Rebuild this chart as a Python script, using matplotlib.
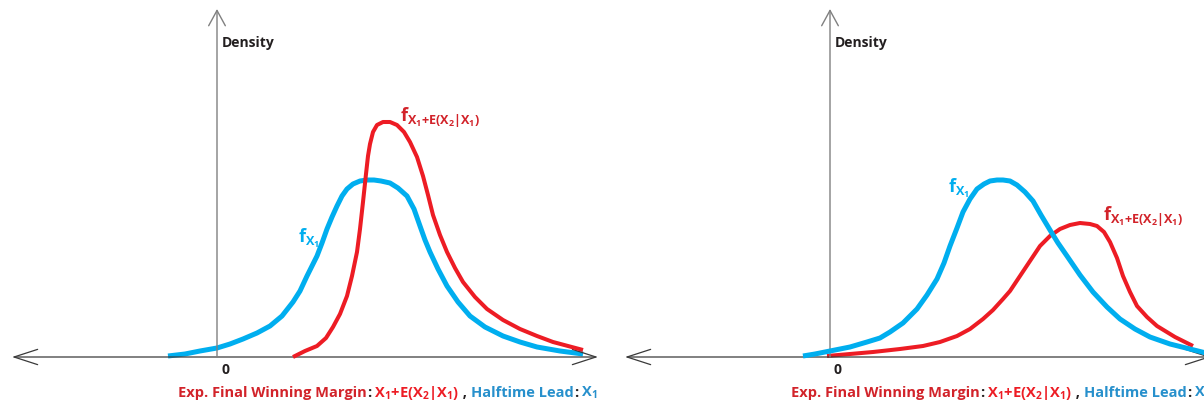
import matplotlib.pyplot as plt

plt.rcParams['font.family'] = ['Open Sans', 'DejaVu Sans']
plt.rcParams['mathtext.fontset'] = 'custom'
plt.rcParams['mathtext.rm'] = 'Open Sans'
plt.rcParams['mathtext.it'] = 'Open Sans'
plt.rcParams['mathtext.bf'] = 'Open Sans:bold'

# left panel: halftime lead X1 and expected final margin
left_blue_x = [-4.9, -3.2, -1.7, 0.0, 1.3, 2.6, 4.0, 5.3, 6.5, 7.6, 8.3, 9.0, 9.5, 10.0,
               10.5, 11.0, 11.5, 12.0, 12.5, 13.0, 13.6, 14.3, 15.0, 15.7, 16.4, 17.3,
               18.1, 19.0, 19.7, 20.3, 20.8, 21.3, 22.1, 23.0, 24.1, 25.3, 26.8, 28.6,
               30.3, 32.0, 34.3, 36.6]
left_blue_y = [1, 3, 6, 9, 13, 18, 24, 31, 41, 55, 66, 81, 91, 101, 114, 128, 140, 151,
               161, 168, 173, 176, 177, 177, 176, 174, 169, 161, 148, 131, 117, 105, 88,
               71, 55, 41, 30, 21, 15, 10, 6, 3]
left_red_x = [7.6, 8.8, 10.0, 10.9, 11.6, 12.3, 13.0, 13.5, 14.0, 14.3, 14.6, 14.9, 15.1,
              15.3, 15.6, 16.0, 16.6, 17.3, 18.0, 18.7, 19.3, 20.0, 20.6, 21.1, 21.6,
              22.3, 23.0, 23.8, 24.6, 25.8, 27.0, 28.6, 30.3, 32.0, 33.6, 35.1, 36.6]
left_red_y = [0, 6, 11, 19, 30, 43, 61, 81, 105, 128, 155, 183, 201, 213, 225, 232, 235,
              235, 232, 225, 215, 200, 181, 162, 142, 122, 105, 89, 75, 60, 48, 37, 28,
              21, 15, 11, 7]

# right panel
right_blue_x = [-2.7, -1.5, 0.0, 2.0, 3.7, 5.0, 6.0, 7.3, 8.7, 9.7, 10.7, 11.4, 12.0, 12.7,
                13.3, 14.0, 14.7, 15.4, 16.0, 16.7, 17.3, 18.0, 18.7, 19.5, 20.3, 21.1,
                22.0, 22.8, 23.7, 25.0, 26.3, 27.7, 29.0, 30.5, 32.0, 34.0, 36.0, 38.0]
right_blue_y = [1, 3, 6, 10, 15, 19, 25, 34, 48, 62, 78, 94, 111, 129, 145, 158, 168, 173,
                176, 177, 177, 176, 172, 165, 156, 142, 127, 114, 101, 82, 65, 50, 38, 28,
                20, 13, 8, 3]
right_red_x = [-0.3, 2.0, 4.3, 7.0, 9.3, 11.0, 12.7, 14.0, 15.3, 16.3, 17.3, 18.0, 19.0,
               20.0, 21.0, 22.0, 23.0, 24.0, 25.0, 26.0, 26.7, 27.4, 28.0, 28.7, 29.3,
               30.0, 30.7, 31.7, 32.7, 34.5, 36.3]
right_red_y = [1, 3, 5, 8, 11, 15, 21, 28, 38, 47, 58, 66, 81, 96, 111, 121, 128, 132, 134,
               133, 131, 125, 115, 99, 81, 65, 51, 40, 31, 20, 11]

BLUE = '#00aeef'
RED = '#ed1c24'
TXT_RED = '#d2232a'
TXT_BLUE = '#2790cc'
DARK = '#231f20'

fig = plt.figure(figsize=(12.04, 4.02), dpi=100)
w = 613 / 1204
ax1 = fig.add_axes([0, 0, w, 1])
ax2 = fig.add_axes([w, 0, w, 1])


def chain(ax, pieces, x0, y0, size):
    prev = ax.text(x0, y0, pieces[0][0], color=pieces[0][1], fontsize=size,
                   fontweight='bold', va='baseline')
    for s, c in pieces[1:]:
        prev = ax.annotate(s, xy=(1, y0), xycoords=(prev, 'data'), color=c,
                           fontsize=size, fontweight='bold', va='baseline')


def panel(ax, bx, by, rx, ry, red_on_top, blue_lab, red_lab):
    ax.set_xlim(-21.7, 39.6)
    ax.set_ylim(-0.044, 0.358)
    ax.axis('off')
    ax.annotate('', xy=(-20.5, 0), xytext=(38.1, 0),
                arrowprops=dict(arrowstyle='<->,head_length=1.7,head_width=0.55',
                                mutation_scale=10, color='#3a3a3a', lw=0.9,
                                shrinkA=0, shrinkB=0))
    ax.annotate('', xy=(0, 0.348), xytext=(0, 0),
                arrowprops=dict(arrowstyle='->,head_length=1.1,head_width=0.6',
                                mutation_scale=10, color='#808080', lw=1.0,
                                shrinkA=0, shrinkB=0))
    ax.text(0.5, 0.315, 'Density', color=DARK, fontsize=10, fontweight='bold',
            va='center', ha='left')
    ax.text(0.4, -0.012, '0', color=DARK, fontsize=10, fontweight='bold',
            va='center', ha='left')
    zb, zr = (2, 3) if red_on_top else (3, 2)
    ax.plot(bx, [v / 1000 for v in by], color=BLUE, lw=3.6, zorder=zb,
            solid_capstyle='butt', solid_joinstyle='round')
    ax.plot(rx, [v / 1000 for v in ry], color=RED, lw=2.9, zorder=zr,
            solid_capstyle='butt', solid_joinstyle='round')
    ax.text(blue_lab[0], blue_lab[1], r'$\mathbf{f_{X_1}}$', color=BLUE,
            fontsize=13, va='center', ha='left')
    ax.text(red_lab[0], red_lab[1], r'$\mathbf{f_{X_1{+}E(X_2|X_1)}}$', color=TXT_RED,
            fontsize=13, va='center', ha='left')
    chain(ax, [('Exp. Final Winning Margin', TXT_RED), (':', DARK),
               (r' $\mathbf{X_1{+}E(X_2|X_1)}$', RED), (' , ', DARK),
               ('Halftime Lead', TXT_BLUE), (':', DARK), (r' $\mathbf{X_1}$', TXT_BLUE)],
          -3.9, -0.039, 10.5)


panel(ax1, left_blue_x, left_blue_y, left_red_x, left_red_y, True,
      (8.1, 0.12), (18.3, 0.24))
panel(ax2, right_blue_x, right_blue_y, right_red_x, right_red_y, False,
      (11.8, 0.17), (27.3, 0.141))

fig.savefig('out.png', dpi=100)
